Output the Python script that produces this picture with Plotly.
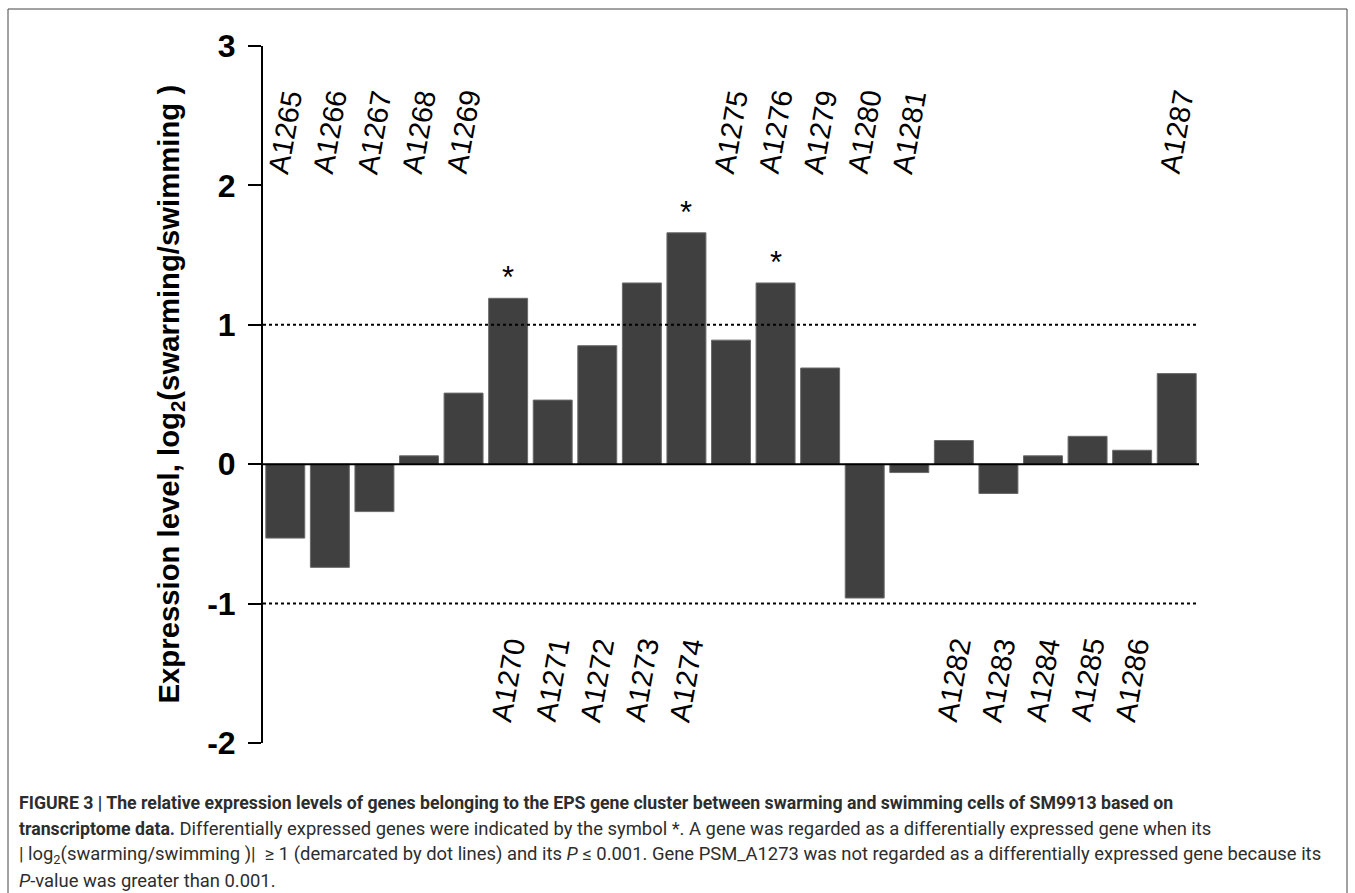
import plotly.graph_objects as go

# ---------------- data ----------------
genes = ["A1265", "A1266", "A1267", "A1268", "A1269", "A1270", "A1271", "A1272",
         "A1273", "A1274", "A1275", "A1276", "A1279", "A1280", "A1281", "A1282",
         "A1283", "A1284", "A1285", "A1286", "A1287"]
expression = [-0.53, -0.74, -0.34, 0.06, 0.51, 1.19, 0.46, 0.85,
              1.30, 1.66, 0.89, 1.30, 0.69, -0.96, -0.06, 0.17,
              -0.21, 0.06, 0.20, 0.10, 0.65]
significant = ["A1270", "A1274", "A1276"]
labels_below = ["A1270", "A1271", "A1272", "A1273", "A1274",
                "A1282", "A1283", "A1284", "A1285", "A1286"]
y_ticks = [-2, -1, 0, 1, 2, 3]
y_ticktext = ["-2", "-1", "0", "1", "2", "3"]
threshold = 1

# ---------------- layout geometry ----------------
W, H = 1355, 893
L, R, T, B = 263, 156, 46, 150
pw, ph = W - L - R, H - T - B


def px_x(x):
    return (x - L) / pw


def px_y(y):
    return (H - B - y) / ph


fig = go.Figure()
fig.add_trace(go.Bar(
    x=genes, y=expression,
    marker=dict(color="#404040", line=dict(color="#6a6a6a", width=1)),
    hoverinfo="x+y",
))

annotations = []
# gene labels
for g in genes:
    below = g in labels_below
    annotations.append(dict(
        x=g, y=-1.215 if below else 2.05, xref="x", yref="y",
        text=g, showarrow=False, textangle=-80,
        yanchor="top" if below else "bottom", xanchor="center",
        font=dict(family="Liberation Sans, Arial", size=29, color="black"),
    ))
# asterisks
for g, v in zip(genes, expression):
    if g in significant:
        annotations.append(dict(
            x=g, y=v, xref="x", yref="y", text="*", showarrow=False,
            yanchor="bottom", yshift=1,
            font=dict(family="Liberation Sans, Arial", size=31, color="black"),
        ))
# y-axis title
annotations.append(dict(
    x=px_x(170), y=0.5, xref="paper", yref="paper",
    text="Expression level, log<sub>2</sub>(swarming/swimming )",
    textangle=-90, showarrow=False, xanchor="center", yanchor="middle",
    font=dict(family="Liberation Sans, Arial", size=29.3, color="black", weight="bold"),
))
# caption
cap_color = "#2d2d2d"
cap_font = dict(family="Roboto, Liberation Sans, Arial", size=18.4, color=cap_color)
bold_open = "<span style='font-size:17.7px'><b>"
bold_close = "</b></span>"
caption_lines = [
    bold_open + "FIGURE 3 | The relative expression levels of genes belonging to the EPS gene cluster "
    "between swarming and swimming cells of SM9913 based on" + bold_close,
    bold_open + "transcriptome data." + bold_close + " Differentially expressed genes were indicated by the symbol *. "
    "A gene was regarded as a differentially expressed gene when its",
    "| log<sub>2</sub>(swarming/swimming )|\u00a0\u00a0\u2265 1 (demarcated by dot lines) and its "
    "<i>P</i> \u2264 0.001. Gene PSM_A1273 was not regarded as a differentially expressed gene because its",
    "<i>P</i>-value was greater than 0.001.",
]
caption_y = [803, 829, 855, 880]
for line, yy in zip(caption_lines, caption_y):
    annotations.append(dict(
        x=px_x(17), y=px_y(yy), xref="paper", yref="paper", text=line,
        showarrow=False, xanchor="left", yanchor="middle", align="left",
        font=cap_font,
    ))

shapes = [
    dict(type="line", xref="paper", yref="y", x0=0, x1=1, y0=threshold, y1=threshold,
         line=dict(color="black", width=2, dash="dot"), layer="above"),
    dict(type="line", xref="paper", yref="y", x0=0, x1=1, y0=-threshold, y1=-threshold,
         line=dict(color="black", width=2, dash="dot"), layer="above"),
    dict(type="line", xref="paper", yref="y", x0=0, x1=1, y0=0, y1=0,
         line=dict(color="black", width=2), layer="above"),
    dict(type="rect", xref="paper", yref="paper",
         x0=px_x(8), x1=px_x(1347), y0=px_y(896), y1=px_y(9),
         line=dict(color="#444444", width=1), fillcolor="rgba(0,0,0,0)", layer="below"),
]

fig.update_layout(
    width=W, height=H,
    margin=dict(l=L, r=R, t=T, b=B, pad=0),
    plot_bgcolor="white", paper_bgcolor="white",
    showlegend=False, bargap=0.126,
    annotations=annotations, shapes=shapes,
    xaxis=dict(type="category", range=[-0.5, len(genes) - 0.5], showticklabels=False,
               ticks="", showline=False, showgrid=False, zeroline=False),
    yaxis=dict(range=[-2, 3], tickmode="array", tickvals=y_ticks, ticktext=y_ticktext,
               showline=True, linecolor="black", linewidth=2, ticks="outside",
               ticklen=13, tickwidth=2, tickcolor="black", showgrid=False, zeroline=False,
               ticklabelstandoff=6,
               tickfont=dict(family="Liberation Sans, Arial", size=32, color="black",
                             weight="bold")),
)

fig.write_html("out.html", config={"displayModeBar": False},
               post_script="document.body.style.margin='0';document.body.style.overflow='hidden';")
